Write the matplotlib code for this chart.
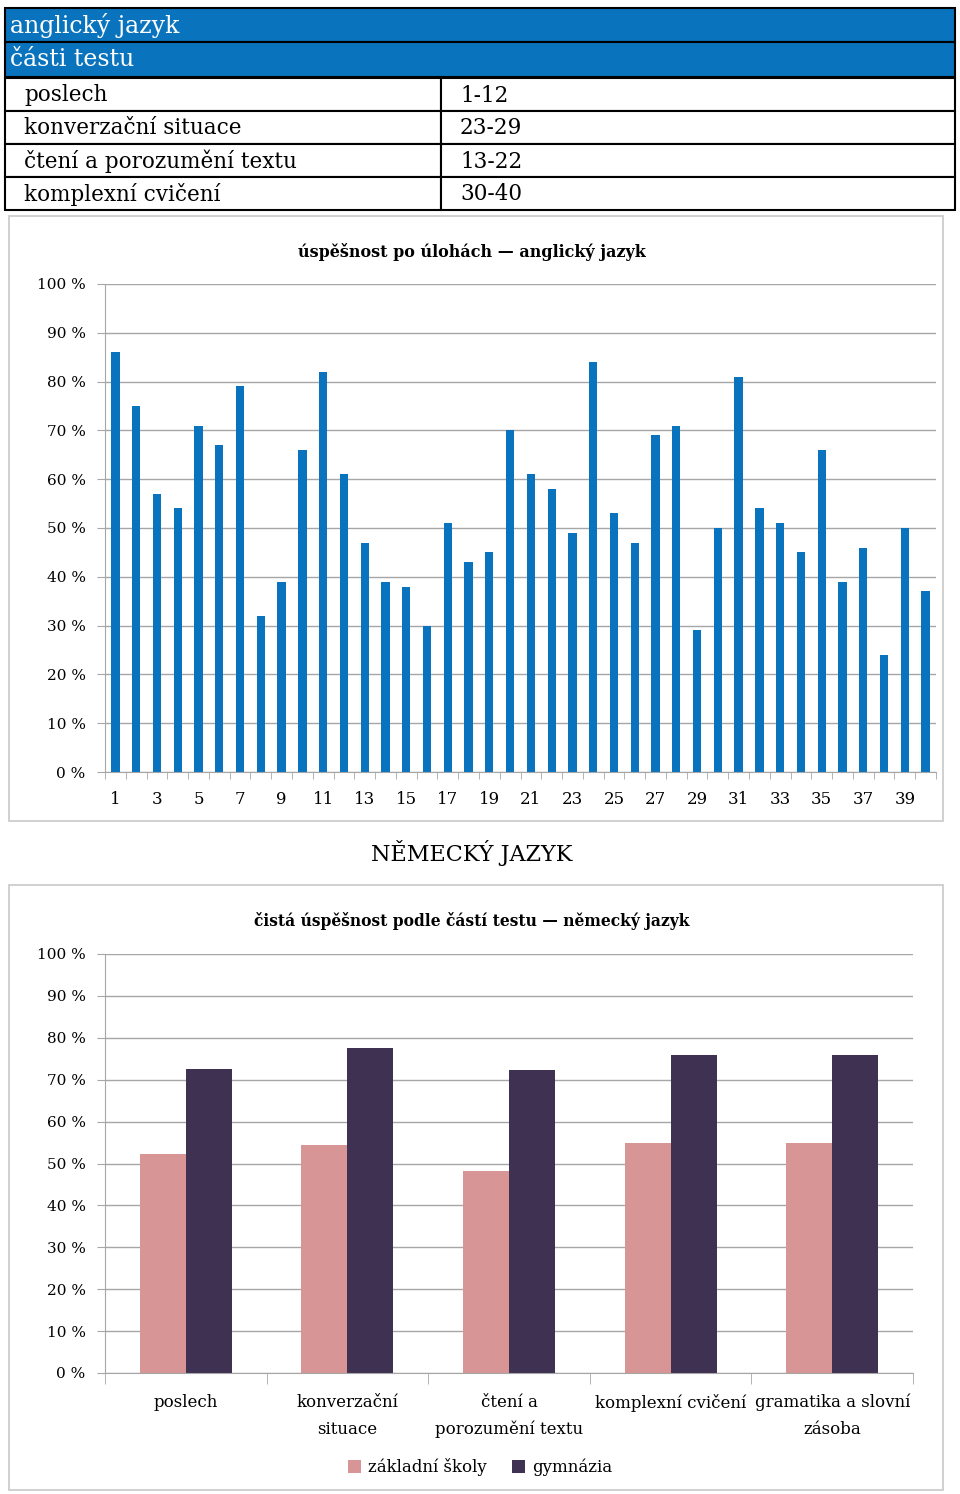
import matplotlib
matplotlib.use('Agg')
import matplotlib.pyplot as plt
from matplotlib.patches import Rectangle
import numpy as np

plt.rcParams['font.family'] = ['DejaVu Serif']

# table data
table_title = 'anglický jazyk'
table_sub = 'části testu'
parts = ['poslech', 'konverzační situace', 'čtení a porozumění textu', 'komplexní cvičení']
ranges = ['1-12', '23-29', '13-22', '30-40']

# chart 1: success per task, english
tasks = list(range(1, 41))
en_vals = [86, 75, 57, 54, 71, 67, 79, 32, 39, 66, 82, 61, 47, 39, 38, 30, 51, 43, 45, 70,
           61, 58, 49, 84, 53, 47, 69, 71, 29, 50, 81, 54, 51, 45, 66, 39, 46, 24, 50, 37]

# chart 2: german by test part
de_parts = ['poslech', 'konverzační\nsituace', 'čtení a\nporozumění textu',
            'komplexní cvičení', 'gramatika a slovní\nzásoba']
de_zs = [52.2, 54.3, 48.2, 55.0, 55.0]
de_gym = [72.6, 77.6, 72.3, 76.0, 76.0]

W, H = 960, 1494
fig = plt.figure(figsize=(W / 100, H / 100), dpi=100)

def px_axes(x0, y0, x1, y1):
    return fig.add_axes([x0 / W, 1 - y1 / H, (x1 - x0) / W, (y1 - y0) / H])

# background axes in pixel coords
bg = fig.add_axes([0, 0, 1, 1])
bg.set_xlim(0, W)
bg.set_ylim(H, 0)
bg.axis('off')

blue = '#0a73bd'
# table
bg.add_patch(Rectangle((5, 8), 950, 34, facecolor=blue, edgecolor='black', lw=1.5))
bg.add_patch(Rectangle((5, 42), 950, 35, facecolor=blue, edgecolor='black', lw=1.5))
bg.text(10, 25, table_title, color='white', fontsize=17, va='center')
bg.text(10, 59.5, table_sub, color='white', fontsize=17, va='center')
row_top = 78
row_h = 33
for i, (p, r) in enumerate(zip(parts, ranges)):
    y = row_top + i * row_h
    bg.add_patch(Rectangle((5, y), 436, row_h, facecolor='white', edgecolor='black', lw=1.5))
    bg.add_patch(Rectangle((441, y), 514, row_h, facecolor='white', edgecolor='black', lw=1.5))
    bg.text(24, y + row_h / 2 + 1, p, fontsize=15.5, va='center')
    bg.text(460, y + row_h / 2 + 1, r, fontsize=15.5, va='center')

# chart frames
frame_c = '#c8c8c8'
bg.add_patch(Rectangle((9, 216), 934, 605, facecolor='none', edgecolor=frame_c, lw=1.2))
bg.add_patch(Rectangle((9, 885), 934, 605, facecolor='none', edgecolor=frame_c, lw=1.2))

bg.text(472, 252, 'úspěšnost po úlohách — anglický jazyk', fontsize=11.5,
        fontweight='bold', ha='center', va='center')
bg.text(472, 853, 'NĚMECKÝ JAZYK', fontsize=16, ha='center', va='center')
bg.text(472, 921, 'čistá úspěšnost podle částí testu — německý jazyk', fontsize=11.2,
        fontweight='bold', ha='center', va='center')

grid_c = '#a6a6a6'
yt = np.arange(0, 101, 10)

def style_axes(ax):
    ax.set_ylim(0, 100)
    ax.set_yticks(yt)
    ax.set_yticklabels([f'{v} %' for v in yt], fontsize=11)
    ax.yaxis.grid(True, color=grid_c, lw=1)
    ax.set_axisbelow(True)
    for s in ['top', 'right']:
        ax.spines[s].set_visible(False)
    ax.spines['left'].set_color(grid_c)
    ax.spines['bottom'].set_color(grid_c)
    ax.tick_params(axis='y', length=6, color=grid_c, pad=8)
    ax.patch.set_alpha(0)

# chart 1
ax1 = px_axes(105, 284, 936, 772)
x1 = np.arange(len(tasks))
ax1.bar(x1, en_vals, width=0.4, color=blue)
ax1.set_xlim(-0.5, len(tasks) - 0.5)
style_axes(ax1)
ax1.set_xticks(x1[::2])
ax1.set_xticklabels([str(t) for t in tasks[::2]], fontsize=12)
ax1.tick_params(axis='x', which='major', length=0, pad=14)
ax1.set_xticks(np.arange(-0.5, len(tasks), 1), minor=True)
ax1.tick_params(axis='x', which='minor', length=5, color=grid_c)

# chart 2
ax2 = px_axes(105, 954, 913, 1373)
x2 = np.arange(len(de_parts))
bw = 0.285
b1 = ax2.bar(x2 - bw / 2, de_zs, width=bw, color='#d79595', label='základní školy')
b2 = ax2.bar(x2 + bw / 2, de_gym, width=bw, color='#3f3151', label='gymnázia')
ax2.set_xlim(-0.5, len(de_parts) - 0.5)
style_axes(ax2)
ax2.set_xticks(x2)
ax2.set_xticklabels(de_parts, fontsize=12, linespacing=1.75, va='top')
ax2.tick_params(axis='x', which='major', length=0, pad=15)
ax2.set_xticks(np.arange(-0.5, len(de_parts), 1), minor=True)
ax2.tick_params(axis='x', which='minor', length=8, color=grid_c)

fig.legend(handles=[b1, b2], loc='center', bbox_to_anchor=(480 / W, 1 - 1467 / H),
           ncol=2, frameon=False, fontsize=12, handlelength=0.8, handleheight=0.8,
           handletextpad=0.4, columnspacing=1.5)

fig.savefig('out.png', dpi=100)
